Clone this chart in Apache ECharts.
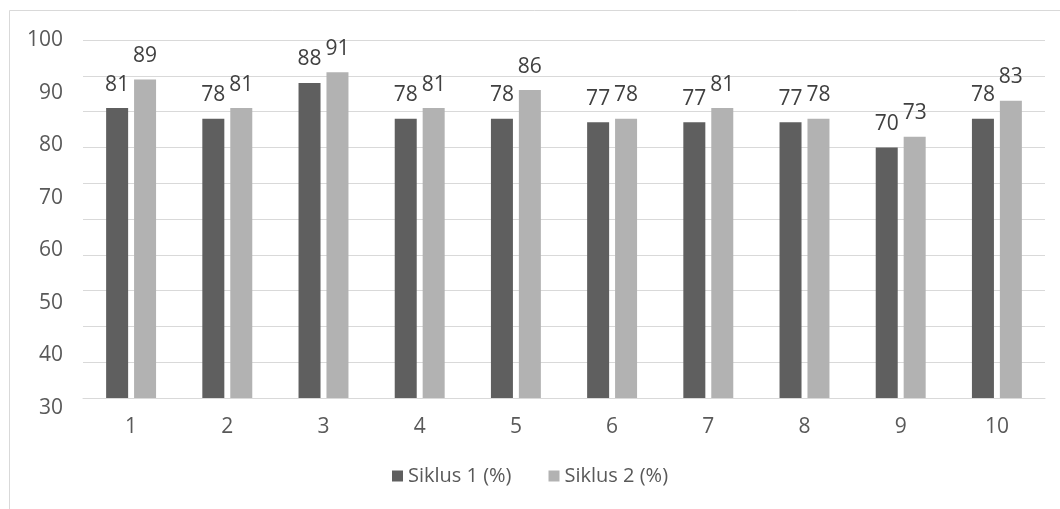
<!DOCTYPE html>
<html>
<head>
<meta charset="utf-8">
<script src="https://cdn.jsdelivr.net/npm/echarts@6/dist/echarts.min.js"></script>
<style>
  html, body { margin: 0; padding: 0; background: #ffffff; }
  #chart { width: 1060px; height: 509px; }
</style>
</head>
<body>
<div id="chart"></div>
<script>
// Categories (cycle items) and percentage values per cycle
const categories = ['1', '2', '3', '4', '5', '6', '7', '8', '9', '10'];
const siklus1 = [81, 78, 88, 78, 78, 77, 77, 77, 70, 78];
const siklus2 = [89, 81, 91, 81, 86, 78, 81, 78, 73, 83];
const seriesNames = ['Siklus 1 (%)', 'Siklus 2 (%)'];
// Tick labels shown along the left edge
const yTickMin = 30;
const yTickMax = 100;

const FONT = '"Open Sans", "Noto Sans", sans-serif';
const GRID_LINE = '#d9d9d9';

const chart = echarts.init(document.getElementById('chart'), null, { renderer: 'canvas' });

const labelStyle = {
  show: true,
  position: 'top',
  distance: 13,
  color: '#404040',
  fontSize: 21,
  fontFamily: FONT
};

chart.setOption({
  animation: false,
  backgroundColor: '#ffffff',
  textStyle: { fontFamily: FONT },
  graphic: [
    { type: 'line', shape: { x1: 9.5, y1: 10.5, x2: 1060, y2: 10.5 }, style: { stroke: GRID_LINE, lineWidth: 1 } },
    { type: 'line', shape: { x1: 9.5, y1: 10.5, x2: 9.5, y2: 509 }, style: { stroke: GRID_LINE, lineWidth: 1 } }
  ],
  grid: [
    { left: 83, right: 15, top: 40, bottom: 111 },
    { left: 83, right: 15, top: 40, bottom: 101 }
  ],
  legend: {
    bottom: 18,
    left: 'center',
    itemWidth: 11,
    itemHeight: 11,
    itemGap: 37,
    icon: 'rect',
    textStyle: { color: '#595959', fontSize: 20, fontFamily: FONT },
    data: seriesNames
  },
  xAxis: [
    {
      type: 'category',
      gridIndex: 0,
      data: categories,
      axisLine: { lineStyle: { color: GRID_LINE } },
      axisTick: { show: false },
      axisLabel: { color: '#595959', fontSize: 21, margin: 19, fontFamily: FONT }
    },
    {
      type: 'category',
      gridIndex: 1,
      data: categories,
      show: false
    }
  ],
  yAxis: [
    {
      type: 'value',
      gridIndex: 0,
      min: 0,
      max: 100,
      interval: 10,
      axisLine: { show: false },
      axisTick: { show: false },
      axisLabel: { show: false },
      splitLine: { lineStyle: { color: GRID_LINE, width: 1 } }
    },
    {
      type: 'value',
      gridIndex: 1,
      min: yTickMin,
      max: yTickMax,
      interval: 10,
      axisLine: { show: false },
      axisTick: { show: false },
      splitLine: { show: false },
      axisLabel: { color: '#595959', fontSize: 21, margin: 20, fontFamily: FONT }
    }
  ],
  series: [
    {
      name: seriesNames[0],
      type: 'bar',
      xAxisIndex: 0,
      yAxisIndex: 0,
      data: siklus1,
      barWidth: 22,
      barGap: '27%',
      itemStyle: { color: '#5f5f5f' },
      label: labelStyle
    },
    {
      name: seriesNames[1],
      type: 'bar',
      xAxisIndex: 0,
      yAxisIndex: 0,
      data: siklus2,
      barWidth: 22,
      barGap: '27%',
      itemStyle: { color: '#b2b2b2' },
      label: labelStyle
    }
  ]
});
</script>
</body>
</html>
